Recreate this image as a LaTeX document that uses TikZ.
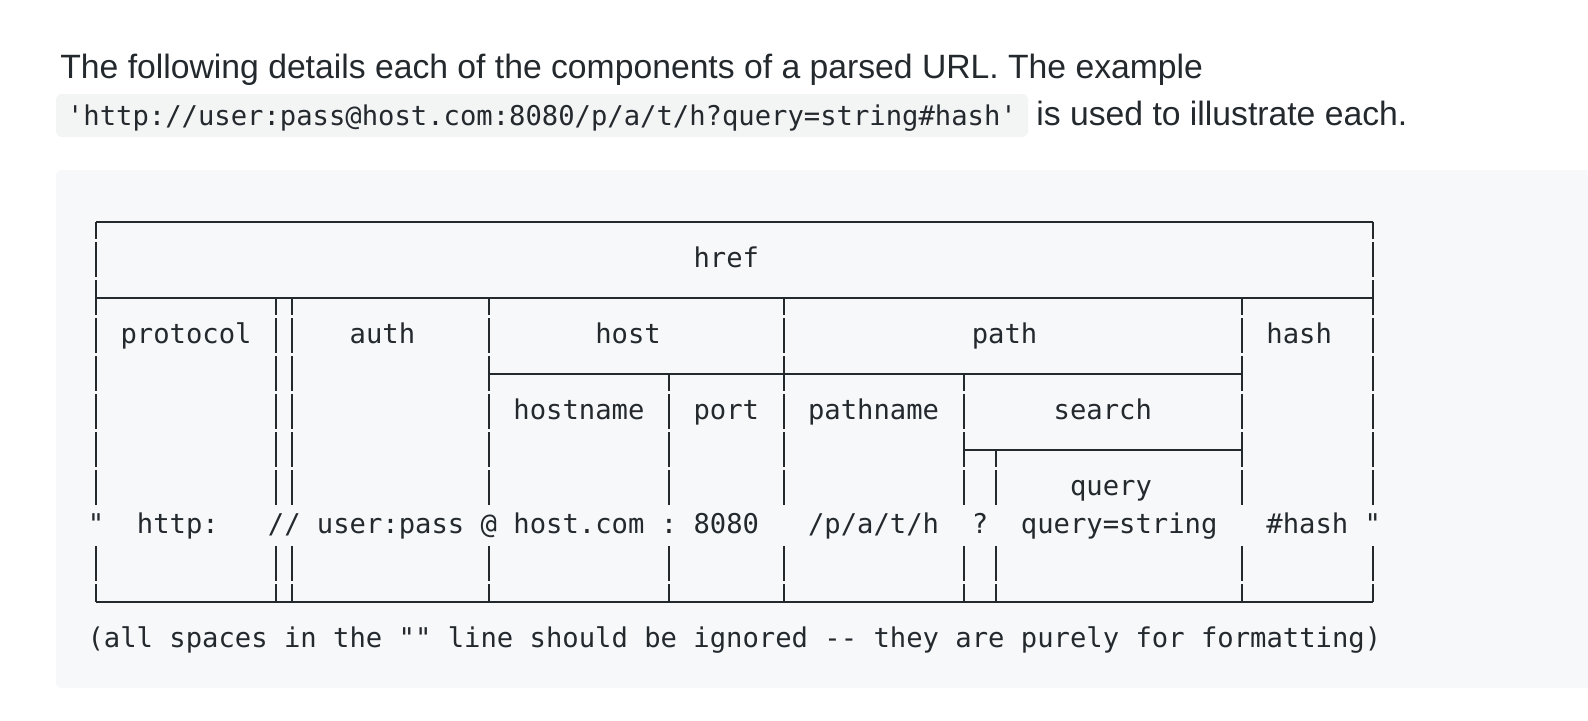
\documentclass[tikz,border=0pt]{standalone}
\usepackage{fontspec}
\setmainfont{Liberation Sans}
\setmonofont{DejaVu Sans Mono}
\usepackage{tikz}

\definecolor{ink}{HTML}{24292E}
\definecolor{codebg}{HTML}{F6F8FA}
\definecolor{inlinebg}{HTML}{F3F4F4}
\newcommand\codefont{\ttfamily\fontsize{13.6}{16}\selectfont}
\newcommand\prosefont{\fontsize{16.85}{20}\selectfont}

\tikzset{
  prose/.style={font=\prosefont, text=ink, inner sep=0pt, anchor=base west},
  code/.style={font=\codefont, text=ink, inner sep=0pt, anchor=base},
  cell/.style={font=\codefont, text=ink, inner sep=0pt, anchor=base, yshift=-3.8pt},
  vrule/.style={dash pattern=on 17.5pt off 1.5pt, dash phase=8.75pt},
  vrulelow/.style={dash pattern=on 17.5pt off 1.5pt, dash phase=18.25pt}
}

\begin{document}
\begin{tikzpicture}[x=0.5pt,y=-0.5pt]
\useasboundingbox[fill=white] (0,0) rectangle (1588,720);

\node[prose] (intro) at (60,78) {The following details each of the components of a parsed URL. The example};
\fill[inlinebg, rounded corners=3pt] (56,94) rectangle (1028,137);
\node[code] (example) at (542,125) {'http://user:pass@host.com:8080/p/a/t/h?query=string\#hash'};
\node[prose] (illustrate) at (1036,125) {is used to illustrate each.};

\fill[codebg, rounded corners=3pt] (56,170) rectangle (1620,688);

\begin{scope}[shift={(96,221.7)}, x=8.185pt, y=-19pt, draw=ink, line width=1pt]
\draw (0,0) -- (78,0);
\draw (0,2) -- (78,2);
\draw (24,4) -- (70,4);
\draw (53,6) -- (70,6);
\draw (0,10) -- (78,10);
\foreach \col/\top in {0/0, 11/2, 12/2, 24/2, 35/4, 42/2, 53/4, 55/6, 70/2, 78/0} {
  \draw[vrule] (\col,\top) -- (\col,7.5);
  \draw[vrulelow] (\col,8.5) -- (\col,10);
}

\node[cell] (href) at (38.5,1) {href};
\node[cell] (protocol) at (5.5,3) {protocol};
\node[cell] (auth) at (17.5,3) {auth};
\node[cell] (host) at (32.5,3) {host};
\node[cell] (path) at (55.5,3) {path};
\node[cell] (hash) at (73.5,3) {hash};
\node[cell] (hostname) at (29.5,5) {hostname};
\node[cell] (port) at (38.5,5) {port};
\node[cell] (pathname) at (47.5,5) {pathname};
\node[cell] (search) at (61.5,5) {search};
\node[cell] (query) at (62,7) {query};

\node[cell] (qleft) at (0,8) {"};
\node[cell] (httpval) at (5,8) {http:};
\node[cell] (slashes) at (11.5,8) {//};
\node[cell] (authval) at (18,8) {user:pass};
\node[cell] (atsign) at (24,8) {@};
\node[cell] (hostnameval) at (29.5,8) {host.com};
\node[cell] (colon) at (35,8) {:};
\node[cell] (portval) at (38.5,8) {8080};
\node[cell] (pathnameval) at (47.5,8) {/p/a/t/h};
\node[cell] (qmark) at (54,8) {?};
\node[cell] (queryval) at (62.5,8) {query=string};
\node[cell] (hashval) at (74,8) {\#hash};
\node[cell] (qright) at (78,8) {"};

\node[cell] (footnote) at (39,11) {(all spaces in the "" line should be ignored -- they are purely for formatting)};
\end{scope}
\end{tikzpicture}
\end{document}
